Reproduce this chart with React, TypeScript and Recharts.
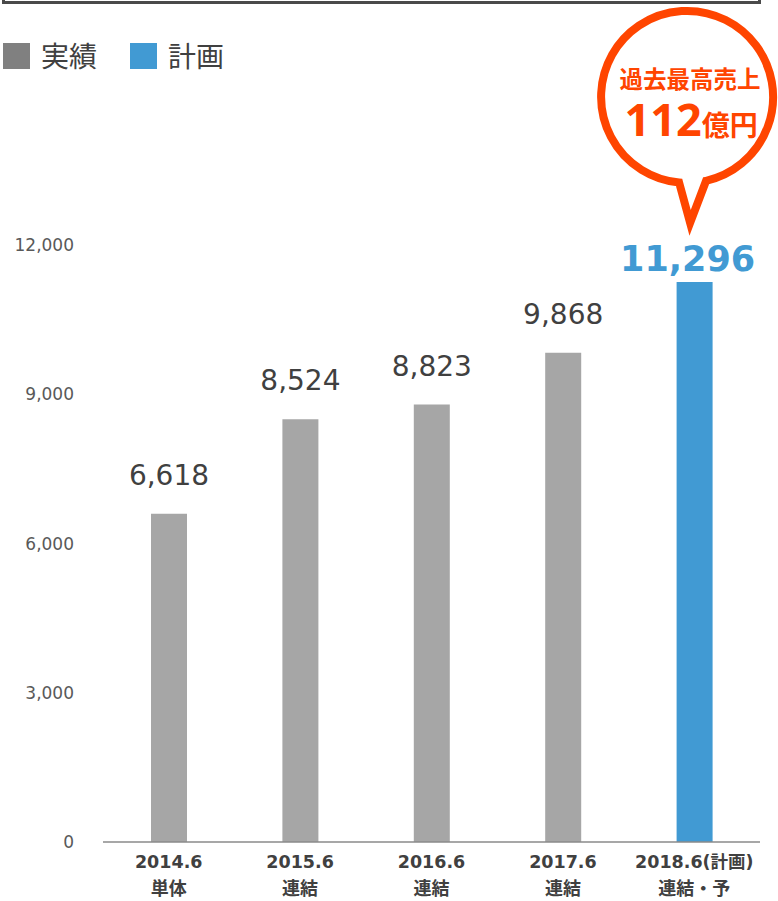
import { BarChart, Bar, XAxis, YAxis, Cell, LabelList } from "recharts";

const categories = ["2014.6", "2015.6", "2016.6", "2017.6", "2018.6(計画)"];
const subLabels = ["単体", "連結", "連結", "連結", "連結・予"];
const sales = [6618, 8524, 8823, 9868, 11296];
const isPlan = [false, false, false, false, true];
const yTicks = [0, 3000, 6000, 9000, 12000];
const legendLabels = ["実績", "計画"];
const bubbleLine1 = "過去最高売上";
const bubbleAmount = "112";
const bubbleUnit = "億円";

const GRAY = "#a6a6a6";
const LEGEND_GRAY = "#808080";
const BLUE = "#419ad3";
const ORANGE = "#ff4500";
const TEXT = "#404040";
const FONT = "'DejaVu Sans', 'Noto Sans CJK JP', sans-serif";
const CJK = "'Noto Sans', 'Noto Sans CJK JP', sans-serif";

const data = categories.map((c, i) => ({ period: c, sub: subLabels[i], value: sales[i], plan: isPlan[i] }));

function XTick(props: any) {
  const { x, y, payload } = props;
  const i = payload.index;
  return (
    <g transform={`translate(${x},${y})`}>
      <text textAnchor="middle" fontFamily={FONT} fontWeight="bold" fill={TEXT}>
        <tspan x={0} y={26} fontSize={17.5}>{categories[i]}</tspan>
        <tspan x={0} y={53} fontSize={18}>{subLabels[i]}</tspan>
      </text>
    </g>
  );
}

function YTick(props: any) {
  const { x, y, payload } = props;
  // reference labels sit a touch above the gridline value at the top
  const shift = -(payload.value / 12000) * 2;
  return (
    <text x={x} y={y + shift} dy="0.355em" textAnchor="end" fontFamily={FONT} fontSize={17} fill="#595959">
      {Number(payload.value).toLocaleString("en-US")}
    </text>
  );
}

function ValueLabel(props: any) {
  const { x, y, width, value, index } = props;
  const cx = x + width / 2;
  const txt = Number(value).toLocaleString("en-US");
  if (!isPlan[index]) {
    return (
      <text x={cx} y={y - 29} textAnchor="middle" fontFamily={FONT} fontSize={28} fill={TEXT}>
        {txt}
      </text>
    );
  }
  // callout bubble over the plan bar
  const bx = cx - 7.5;
  const by = y - 185;
  const r = 86;
  const lx = bx - 8;
  const ly = by + Math.sqrt(r * r - 64);
  const rx = bx + 19;
  const ry = by + Math.sqrt(r * r - 19 * 19);
  const tipX = cx - 4.5;
  const tipY = y - 59;
  const path = `M ${lx} ${ly} L ${tipX} ${tipY} L ${rx} ${ry} A ${r} ${r} 0 1 0 ${lx} ${ly} Z`;
  return (
    <g>
      <path d={path} fill="#fff" stroke={ORANGE} strokeWidth={8} strokeLinejoin="miter" strokeMiterlimit={10} />
      <text x={bx + 3} y={by - 9} textAnchor="middle" fontFamily={CJK} fontWeight="bold" fontSize={23.5} fill={ORANGE}>
        {bubbleLine1}
      </text>
      <text x={bx + 4} y={by + 39} textAnchor="middle" fontFamily={CJK} fontWeight="bold" fill={ORANGE}>
        <tspan fontSize={45}>{bubbleAmount}</tspan>
        <tspan fontSize={28}>{bubbleUnit}</tspan>
      </text>
      <text x={cx - 7} y={y - 11} textAnchor="middle" fontFamily={FONT} fontWeight="bold" fontSize={35} fill={BLUE}>
        {txt}
      </text>
    </g>
  );
}

export default function App() {
  return (
    <div style={{ position: "absolute", left: 0, top: 0, width: 778, height: 901, background: "#fff", overflow: "hidden" }}>
      <div style={{ position: "absolute", left: 2, top: -20, width: 759, height: 24, border: "3px solid #4a4a4a", boxSizing: "border-box" }} />
      <div style={{ position: "absolute", left: 3, top: 40, display: "flex", alignItems: "center", fontFamily: CJK, fontSize: 28, color: TEXT }}>
        {legendLabels.map((l, i) => (
          <div key={l} style={{ display: "flex", alignItems: "center", marginRight: 33 }}>
            <span style={{ display: "inline-block", width: 27, height: 26, background: i === 0 ? LEGEND_GRAY : BLUE, marginRight: 11 }} />
            <span style={{ lineHeight: "32px" }}>{l}</span>
          </div>
        ))}
      </div>
      <BarChart width={778} height={901} data={data} margin={{ top: 247, right: 18, bottom: 0, left: 0 }}>
        <XAxis
          dataKey="period"
          height={59}
          interval={0}
          tickLine={false}
          tickSize={0}
          tickMargin={0}
          axisLine={{ stroke: "#8a8a8a", strokeWidth: 1.5 }}
          tick={<XTick />}
        />
        <YAxis
          domain={[0, 12000]}
          ticks={yTicks}
          width={103}
          axisLine={false}
          tickLine={false}
          tickSize={0}
          tickMargin={29}
          tick={<YTick />}
        />
        <Bar dataKey="value" barSize={36} isAnimationActive={false}>
          {data.map((d) => (
            <Cell key={d.period} fill={d.plan ? BLUE : GRAY} />
          ))}
          <LabelList dataKey="value" content={<ValueLabel />} />
        </Bar>
      </BarChart>
    </div>
  );
}
